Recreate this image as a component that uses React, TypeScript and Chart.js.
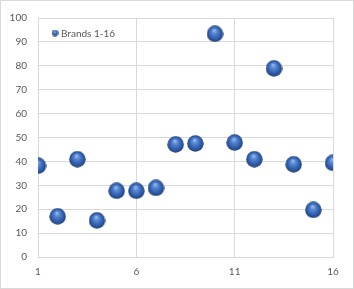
import React, { useEffect, useRef } from "react";
import { Chart, registerables } from "chart.js";

Chart.register(...registerables);

const seriesLabel = "Brands 1-16";
const brandIndex = [1, 2, 3, 4, 5, 6, 7, 8, 9, 10, 11, 12, 13, 14, 15, 16];
const brandValues = [38.2, 17, 40.9, 15.3, 27.7, 27.7, 28.9, 47.1, 47.5, 93.4, 47.9, 40.9, 78.9, 38.8, 19.7, 39.4];
const xTickValues = [1, 6, 11, 16];
const yMin = 0;
const yMax = 100;
const yStep = 10;

const FONT = "Lato, 'Open Sans', sans-serif";
const TEXT = "#595959";
const GRID = "#d9d9d9";

function makeSphere(size: number): HTMLCanvasElement {
  const c = document.createElement("canvas");
  c.width = size;
  c.height = size;
  const g = c.getContext("2d")!;
  const r = size / 2 - 0.3;
  const cx = size / 2;
  const cy = size / 2;
  const grad = g.createRadialGradient(cx - r * 0.1, cy - r * 0.45, 0, cx, cy, r);
  grad.addColorStop(0, "#a9c4ef");
  grad.addColorStop(0.3, "#5a8ad6");
  grad.addColorStop(0.65, "#3565b3");
  grad.addColorStop(0.88, "#274f93");
  grad.addColorStop(1, "#1a366a");
  g.beginPath();
  g.arc(cx, cy, r, 0, Math.PI * 2);
  g.fillStyle = grad;
  g.fill();
  return c;
}

export default function App() {
  const ref = useRef<HTMLCanvasElement | null>(null);
  useEffect(() => {
    if (!ref.current) return;
    const sphere = makeSphere(17);
    const legendSphere = makeSphere(7);
    const legendPlugin = {
      id: "insideLegend",
      afterDraw(chart: any) {
        const ctx = chart.ctx;
        const a = chart.chartArea;
        const x = a.left + 17;
        const y = a.top + 15;
        ctx.save();
        ctx.drawImage(legendSphere, x - 3.5, y - 3.5, 7, 7);
        ctx.font = `10px ${FONT}`;
        ctx.fillStyle = TEXT;
        ctx.textBaseline = "middle";
        ctx.textAlign = "left";
        ctx.fillText(chart.data.datasets[0].label, x + 6, y + 0.5);
        ctx.restore();
      },
    };
    const chart = new Chart(ref.current, {
      type: "scatter",
      data: {
        datasets: [
          {
            label: seriesLabel,
            data: brandIndex.map((x, i) => ({ x, y: brandValues[i] })),
            pointStyle: sphere as any,
            pointRadius: 8,
            pointHoverRadius: 8,
          },
        ],
      },
      options: {
        animation: false,
        responsive: false,
        maintainAspectRatio: false,
        layout: { padding: { top: 14, right: 20, left: 0, bottom: 0 } },
        plugins: {
          legend: { display: false },
          tooltip: { enabled: false },
        },
        scales: {
          x: {
            type: "linear",
            min: xTickValues[0],
            max: xTickValues[xTickValues.length - 1],
            afterBuildTicks: (s: any) => {
              s.ticks = xTickValues.map((v) => ({ value: v }));
            },
            afterFit: (s: any) => {
              s.height = 31;
            },
            grid: { color: GRID, drawTicks: false },
            border: { color: GRID },
            ticks: {
              padding: 9,
              color: TEXT,
              font: { family: FONT, size: 10 },
              maxRotation: 0,
            },
          },
          y: {
            type: "linear",
            min: yMin,
            max: yMax,
            afterFit: (s: any) => {
              s.width = 37;
            },
            grid: { color: GRID, drawTicks: false },
            border: { color: GRID },
            ticks: {
              stepSize: yStep,
              padding: 11,
              color: TEXT,
              font: { family: FONT, size: 10 },
            },
          },
        },
      },
      plugins: [legendPlugin],
    });
    return () => chart.destroy();
  }, []);
  return (
    <div
      style={{
        position: "fixed",
        left: 0,
        top: 0,
        width: 354,
        height: 289,
        boxSizing: "border-box",
        border: "1px solid #d9d9d9",
        background: "#fff",
      }}
    >
      <canvas ref={ref} width={352} height={287} style={{ display: "block", width: 352, height: 287 }} />
    </div>
  );
}
